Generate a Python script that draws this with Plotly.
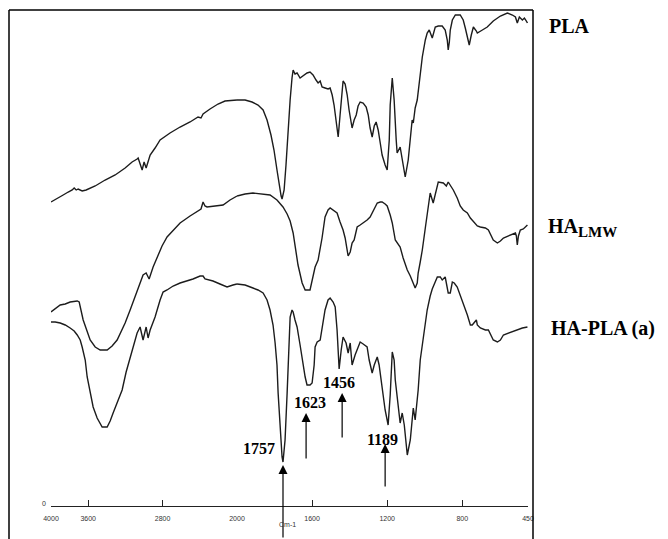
import plotly.graph_objects as go

# ---------------- data (wavenumber cm-1, transmittance a.u.) ----------------
pla_wn = [4000, 3933, 3869, 3815, 3772, 3751, 3729, 3708, 3665, 3622, 3525, 3418, 3310, 3203, 3128,
          3074, 3063, 3020, 2999, 2977, 2934, 2881, 2827, 2720, 2612, 2505, 2419, 2387, 2365, 2290,
          2204, 2129, 2054, 2000,
          1957, 1920, 1888, 1861, 1840, 1819, 1803, 1787, 1776, 1765, 1760, 1749, 1739, 1728, 1717,
          1707, 1701, 1691, 1680, 1664, 1648, 1627, 1611, 1595, 1579, 1568, 1557, 1547, 1531, 1515,
          1504, 1493, 1483, 1472, 1461, 1451, 1440, 1435, 1424, 1413, 1403, 1387, 1376, 1365, 1355,
          1344, 1328, 1312, 1301, 1291, 1280, 1269, 1259, 1248, 1237, 1227, 1211, 1200, 1189, 1184,
          1173, 1163, 1152, 1147, 1131, 1115, 1104, 1088, 1077, 1067, 1061, 1051, 1040, 1024, 1013,
          997, 987, 976, 960, 944, 928, 907, 891, 880, 875, 869, 864, 853, 837, 811, 795, 784, 773,
          763, 752, 741, 725, 720, 693, 667, 635, 597, 560, 533, 517, 507, 496, 480, 469, 453]
pla_t = [304, 308, 311, 314, 316, 318, 316, 317, 315, 316, 320, 326, 331, 338, 344,
         347, 348, 336, 344, 338, 351, 358, 366, 373, 379, 384, 389, 388, 392, 397,
         402, 405, 406, 406,
         406, 404, 401, 396, 386, 371, 356, 336, 321, 310, 307, 316, 341, 376, 406,
         428, 436, 432, 433, 428, 430, 433, 434, 431, 426, 423, 425, 419, 418, 417,
         418, 411, 401, 384, 369, 391, 421, 425, 422, 411, 396, 378, 386, 391, 400,
         404, 403, 399, 391, 378, 369, 380, 384, 376, 363, 351, 341, 336, 366, 401,
         428, 406, 366, 353, 359, 341, 329, 346, 371, 386, 383, 398, 406, 431, 449,
         466, 473, 476, 468, 479, 480, 480, 476, 466, 456, 464, 476, 486, 491, 491, 486, 478, 470,
         461, 471, 479, 475, 473, 476, 479, 485, 490, 493, 491, 489, 483, 489, 486, 488, 483]

halmw_wn = [4000, 3955, 3901, 3847, 3794, 3718, 3697, 3654, 3611, 3579, 3525, 3471, 3396, 3343, 3289,
            3203, 3149, 3074, 3010, 2977, 2945, 2902, 2859, 2806, 2752, 2687, 2612, 2505, 2430, 2387,
            2365, 2344, 2322, 2236, 2150, 2075, 2000,
            1957, 1915, 1867, 1824, 1787, 1755, 1733, 1717, 1701, 1691, 1675, 1653, 1637, 1611, 1595,
            1584, 1568, 1557, 1547, 1531, 1515, 1504, 1488, 1467, 1451, 1435, 1424, 1413, 1408, 1397,
            1387, 1376, 1360, 1344, 1328, 1307, 1291, 1269, 1253, 1237, 1227, 1211, 1200, 1184, 1173,
            1157, 1147, 1131, 1115, 1093, 1077, 1067, 1051, 1040, 1035, 1024, 1013, 997, 981, 971,
            955, 939, 928, 901, 885, 875, 859, 848, 827, 811, 795, 773, 757, 741, 720, 704, 677, 661,
            645, 635, 613, 597, 581, 555, 533, 517, 512, 507, 501, 491, 475, 453]
halmw_t = [194, 197, 201, 202, 204, 205, 204, 186, 174, 166, 159, 156, 156, 160, 166,
           183, 196, 216, 231, 233, 227, 239, 249, 260, 269, 276, 283, 290, 294, 297,
           304, 300, 299, 300, 301, 306, 310,
           312, 313, 312, 311, 306, 299, 292, 285, 273, 261, 241, 223, 216, 216, 228,
           239, 246, 256, 268, 289, 296, 298, 296, 293, 284, 276, 268, 256, 250, 254,
           263, 266, 279, 281, 283, 286, 289, 298, 303, 304, 304, 302, 300, 291, 283,
           266, 263, 259, 248, 236, 230, 226, 218, 223, 233, 244, 256, 278, 301, 313,
           303, 316, 324, 323, 320, 324, 320, 316, 308, 300, 296, 293, 288, 284, 280, 279, 278, 276,
           270, 266, 263, 265, 268, 270, 272, 273, 270, 261, 270, 276, 277, 281]

hapla_wn = [4000, 3955, 3901, 3847, 3794, 3751, 3718, 3686, 3665, 3632, 3611, 3579, 3547, 3504, 3450,
            3396, 3364, 3332, 3289, 3235, 3192, 3149, 3106, 3074, 3042, 3010, 2977, 2956, 2934, 2913,
            2881, 2827, 2795, 2752, 2687, 2612, 2537, 2473, 2397, 2365, 2344, 2258, 2183, 2107, 2043,
            2000,
            1957, 1915, 1888, 1861, 1840, 1824, 1808, 1797, 1787, 1781, 1771, 1760, 1755, 1744, 1733,
            1723, 1717, 1707, 1701, 1691, 1680, 1664, 1653, 1637, 1627, 1611, 1600, 1589, 1584, 1573,
            1557, 1541, 1531, 1515, 1504, 1488, 1477, 1467, 1461, 1456, 1445, 1435, 1419, 1408, 1397,
            1387, 1371, 1360, 1344, 1328, 1307, 1296, 1280, 1269, 1253, 1243, 1227, 1211, 1195, 1184,
            1173, 1163, 1157, 1141, 1131, 1120, 1109, 1093, 1077, 1067, 1061, 1051, 1035, 1024, 1008,
            987, 971, 960, 933, 917, 907, 891, 875, 864, 853, 843, 827, 811, 795, 773, 757, 747, 725,
            720, 704, 677, 661, 635, 613, 597, 581, 555, 533, 507, 480, 453]
hapla_t = [184, 184, 183, 181, 178, 175, 171, 166, 159, 146, 129, 113, 99, 88, 79,
           79, 85, 93, 103, 116, 134, 149, 163, 173, 179, 166, 179, 168, 176, 181,
           189, 206, 214, 216, 220, 223, 225, 227, 230, 230, 227, 225, 222, 219, 221,
           222,
           221, 218, 216, 213, 206, 196, 181, 163, 141, 113, 76, 49, 44, 66, 113,
           166, 189, 196, 194, 186, 179, 161, 146, 129, 121, 121, 123, 141, 159, 164,
           166, 184, 196, 206, 208, 204, 199, 176, 159, 137, 156, 169, 163, 153, 163,
           141, 151, 156, 164, 162, 159, 146, 133, 141, 149, 141, 119, 96, 81, 111,
           154, 146, 126, 96, 83, 93, 81, 51, 66, 86, 98, 86, 116, 146, 166,
           196, 210, 217, 229, 229, 226, 229, 213, 213, 224, 223, 219, 211, 203, 191, 181, 181, 186,
           181, 178, 176, 176, 166, 164, 166, 171, 173, 174, 176, 178, 179]

tick_hi = [4000, 3600, 2800, 2000]
tick_lo = [1600, 1200, 800, 450]
tick_hi_text = ["4000", "3600", "2800", "2000"]
tick_lo_text = ["1600", "1200", "800", "450"]

peak_labels = ["1757", "1623", "1456", "1189"]
arrow_wn = [1755, 1632, 1440, 1211]
arrow_tip = [41, 93, 113, 62]
arrow_tail = [-33, 46, 67, 18]
label_wn = [1883, 1611, 1456, 1224]
label_t = [58, 104, 124, 67]

series_names = ["PLA", "HA<sub><span style='font-size:15px'>LMW</span></sub>", "HA-PLA (a)"]

# ---------------- layout geometry ----------------
OFF = 8                      # page body margin of the html page
W, H = 668 - OFF, 539 - OFF
ML, MR, MT, MB = 51 - OFF, 140, 10 - OFF, 33
PW = W - ML - MR
PH = H - MT - MB
SPLIT = (237 - OFF - ML) / PW


def px(xp):
    """page x pixel -> paper coordinate"""
    return (xp - OFF - ML) / PW


def py(yp):
    """page y pixel -> paper coordinate"""
    return (H - MB - (yp - OFF)) / PH


fig = go.Figure()
line_style = dict(color="#1c1c1c", width=1.4)
for wn, t in [(pla_wn, pla_t), (halmw_wn, halmw_t), (hapla_wn, hapla_t)]:
    hi = [(a, b) for a, b in zip(wn, t) if a >= 2000]
    lo = [(a, b) for a, b in zip(wn, t) if a <= 2000]
    fig.add_trace(go.Scatter(x=[p[0] for p in hi], y=[p[1] for p in hi], mode="lines",
                             line=line_style, xaxis="x", yaxis="y", showlegend=False,
                             hoverinfo="skip"))
    fig.add_trace(go.Scatter(x=[p[0] for p in lo], y=[p[1] for p in lo], mode="lines",
                             line=line_style, xaxis="x2", yaxis="y", showlegend=False,
                             hoverinfo="skip"))

axis_common = dict(ticks="inside", ticklen=6, tickwidth=1.3, tickcolor="#222",
                   showline=True, linecolor="#222", linewidth=1.4, showgrid=False,
                   zeroline=False, anchor="y", ticklabelstandoff=5,
                   tickfont=dict(family="Arial", size=7, color="#333"))

annotations = []
label_font = dict(family="Liberation Serif, Times New Roman, serif", size=20, color="black")
for name, (xp, yp) in zip(series_names, [(547, 26), (546, 227), (549, 329)]):
    annotations.append(dict(text="<b>%s</b>" % name, xref="paper", yref="paper",
                            x=px(xp), y=py(yp), xanchor="left", yanchor="middle",
                            showarrow=False, font=label_font))

for lab, lx, ly in zip(peak_labels, label_wn, label_t):
    annotations.append(dict(text="<b>%s</b>" % lab, xref="x2", yref="y", x=lx, y=ly,
                            xanchor="center", yanchor="middle", showarrow=False,
                            font=dict(family="Liberation Serif, Times New Roman, serif",
                                      size=16, color="black")))

for awn, tip, tail in zip(arrow_wn, arrow_tip, arrow_tail):
    annotations.append(dict(text="", xref="x2", yref="y", x=awn, y=tip,
                            axref="x2", ayref="y", ax=awn, ay=tail, showarrow=True,
                            arrowhead=2, arrowsize=1.5, arrowwidth=1.2, arrowcolor="black",
                            standoff=0))

annotations.append(dict(text="Cm-1", xref="paper", yref="paper", x=px(287), y=py(530),
                        showarrow=False, font=dict(family="Arial", size=7, color="#333")))
annotations.append(dict(text="0", xref="paper", yref="paper", x=px(40), y=py(509),
                        showarrow=False, font=dict(family="Arial", size=7, color="#333")))

frame = dict(color="black", width=1.5)
shapes = [
    dict(type="line", xref="paper", yref="paper", x0=px(9), x1=px(9), y0=py(10), y1=py(539), line=frame),
    dict(type="line", xref="paper", yref="paper", x0=px(9), x1=px(533), y0=py(10), y1=py(10), line=frame),
    dict(type="line", xref="paper", yref="paper", x0=px(533), x1=px(533), y0=py(10), y1=py(539), line=frame),
]

fig.update_layout(
    width=W, height=H,
    margin=dict(l=ML, r=MR, t=MT, b=MB),
    paper_bgcolor="white", plot_bgcolor="white",
    xaxis=dict(domain=[0, SPLIT], range=[4000, 2000], tickvals=tick_hi, ticktext=tick_hi_text,
               **axis_common),
    xaxis2=dict(domain=[SPLIT, 1], range=[2000, 450], tickvals=tick_lo, ticktext=tick_lo_text,
                **axis_common),
    yaxis=dict(range=[0, PH], visible=False, fixedrange=True),
    annotations=annotations,
    shapes=shapes,
    showlegend=False,
)

fig.write_html("out.html")
